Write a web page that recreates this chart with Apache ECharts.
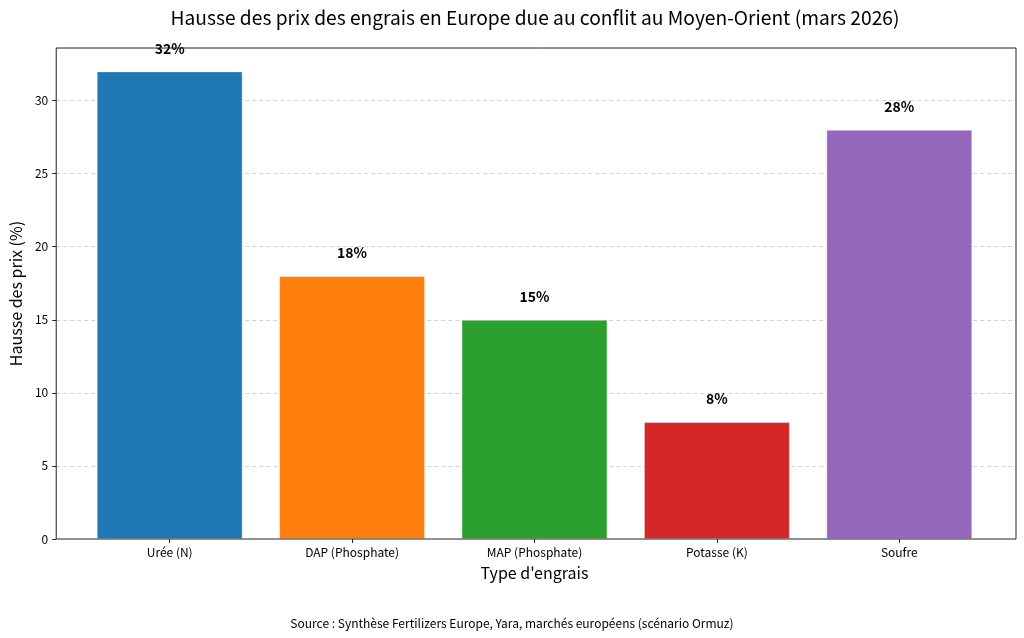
<!DOCTYPE html>
<html><head><meta charset="utf-8">
<script src="https://cdn.jsdelivr.net/npm/echarts@6/dist/echarts.min.js"></script>
<style>html,body{margin:0;padding:0;background:#fff}#c{width:1024px;height:638px}</style>
</head><body><div id="c"></div>
<script>
const categories = ['Urée (N)', 'DAP (Phosphate)', 'MAP (Phosphate)', 'Potasse (K)', 'Soufre'];
const values = [32, 18, 15, 8, 28];
const colors = ['#1f77b4', '#ff7f0e', '#2ca02c', '#d62728', '#9467bd'];
const yTicks = [0, 5, 10, 15, 20, 25, 30];
const titleText = "Hausse des prix des engrais en Europe due au conflit au Moyen-Orient (mars 2026)";
const yName = 'Hausse des prix (%)';
const xName = "Type d'engrais";
const sourceText = 'Source : Synthèse Fertilizers Europe, Yara, marchés européens (scénario Ormuz)';

const FONT = '"Noto Sans CJK JP", "Noto Sans", sans-serif';
const chart = echarts.init(document.getElementById('c'));
chart.setOption({
  animation: false,
  textStyle: { fontFamily: FONT },
  title: [{
    text: titleText, left: 530, top: 3, textAlign: 'center',
    textStyle: { fontFamily: FONT, fontSize: 19.2, fontWeight: 'normal', color: '#000' }
  }, {
    text: sourceText, left: 507, top: 612, textAlign: 'center',
    textStyle: { fontFamily: FONT, fontSize: 12, fontWeight: 'normal', color: '#000' }
  }],
  grid: [
    { left: 53, right: 8, top: 48, bottom: 99, show: true, z: 10, borderColor: '#222', borderWidth: 1, backgroundColor: 'transparent' },
    { left: 78.5, right: 33.5, top: 48, bottom: 99 }
  ],
  xAxis: [
    { gridIndex: 0, type: 'value', min: 0, max: 1, show: false },
    {
      gridIndex: 1, type: 'category', data: categories,
      axisLine: { show: false },
      axisTick: { show: true, alignWithLabel: true, length: 4, lineStyle: { color: '#222' } },
      axisLabel: { color: '#000', fontSize: 12, margin: 7, fontFamily: FONT },
      name: xName, nameLocation: 'middle', nameGap: 26,
      nameTextStyle: { fontSize: 16, color: '#000', fontFamily: FONT }
    }
  ],
  yAxis: [
    {
      gridIndex: 0, type: 'value', min: 0, max: 33.6, interval: 5,
      axisLine: { show: false },
      axisTick: { show: true, length: 4, customValues: yTicks, lineStyle: { color: '#222' } },
      axisLabel: { color: '#000', fontSize: 12, margin: 8, fontFamily: FONT, customValues: yTicks },
      splitLine: { show: true, showMinLine: false, lineStyle: { color: '#c8c8c8', type: [4, 3], width: 0.8 } },
      name: yName, nameLocation: 'middle', nameGap: 31,
      nameTextStyle: { fontSize: 16, color: '#000', fontFamily: FONT }
    },
    { gridIndex: 1, type: 'value', min: 0, max: 33.6, show: false, splitLine: { show: false } }
  ],
  series: [{
    type: 'bar', xAxisIndex: 1, yAxisIndex: 1,
    barWidth: '80%',
    data: values.map((v, i) => ({ value: v, itemStyle: { color: colors[i], borderColor: 'rgba(255,255,255,0.35)', borderWidth: 1 } })),
    label: {
      show: true, position: 'top', distance: 16,
      formatter: p => p.value + '%',
      fontFamily: FONT, fontSize: 14, fontWeight: 'bold', color: '#000'
    }
  }]
});
</script></body></html>
